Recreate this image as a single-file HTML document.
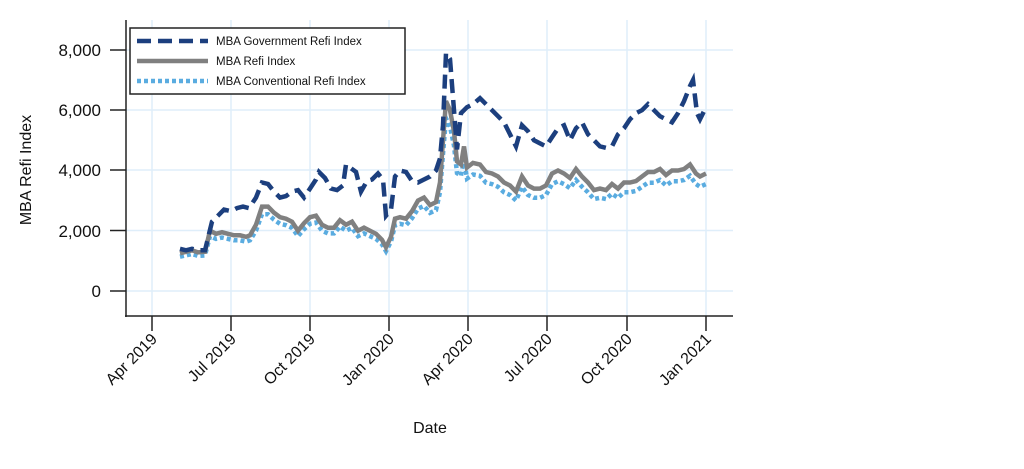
<!DOCTYPE html>
<html><head><meta charset="utf-8"><style>body{margin:0;background:#fff}svg{display:block}</style></head>
<body>
<svg id="s" width="1024" height="469" xmlns="http://www.w3.org/2000/svg" font-family="Liberation Sans, sans-serif">
<g stroke="#dfeefa" stroke-width="1.5">
<line x1="152" y1="20" x2="152" y2="316"/><line x1="231" y1="20" x2="231" y2="316"/><line x1="310" y1="20" x2="310" y2="316"/><line x1="389" y1="20" x2="389" y2="316"/><line x1="468" y1="20" x2="468" y2="316"/><line x1="547" y1="20" x2="547" y2="316"/><line x1="627" y1="20" x2="627" y2="316"/><line x1="706" y1="20" x2="706" y2="316"/>
<line x1="126" y1="291" x2="733" y2="291"/><line x1="126" y1="230.5" x2="733" y2="230.5"/><line x1="126" y1="170" x2="733" y2="170"/><line x1="126" y1="110" x2="733" y2="110"/><line x1="126" y1="50" x2="733" y2="50"/>
</g>
<g stroke="#222" stroke-width="1.5">
<line x1="126" y1="20" x2="126" y2="317"/><line x1="125" y1="316" x2="733" y2="316"/>
<line x1="110" y1="291" x2="126" y2="291"/><line x1="110" y1="230.5" x2="126" y2="230.5"/><line x1="110" y1="170" x2="126" y2="170"/><line x1="110" y1="110" x2="126" y2="110"/><line x1="110" y1="50" x2="126" y2="50"/>
<line x1="152" y1="316" x2="152" y2="331"/><line x1="231" y1="316" x2="231" y2="331"/><line x1="310" y1="316" x2="310" y2="331"/><line x1="389" y1="316" x2="389" y2="331"/><line x1="468" y1="316" x2="468" y2="331"/><line x1="547" y1="316" x2="547" y2="331"/><line x1="627" y1="316" x2="627" y2="331"/><line x1="706" y1="316" x2="706" y2="331"/>
</g>
<g font-size="17" fill="#111" text-anchor="end">
<text x="101" y="297">0</text><text x="101" y="237">2,000</text><text x="101" y="176">4,000</text><text x="101" y="116">6,000</text><text x="101" y="56">8,000</text>
</g>
<text transform="translate(31,170) rotate(-90)" font-size="16" text-anchor="middle" fill="#111">MBA Refi Index</text>
<text x="430" y="433" font-size="16" text-anchor="middle" fill="#111">Date</text>
<g font-size="16" fill="#111" text-anchor="end">
<text transform="translate(158,340) rotate(-45)">Apr 2019</text>
<text transform="translate(237,340) rotate(-45)">Jul 2019</text>
<text transform="translate(316,340) rotate(-45)">Oct 2019</text>
<text transform="translate(395,340) rotate(-45)">Jan 2020</text>
<text transform="translate(474,340) rotate(-45)">Apr 2020</text>
<text transform="translate(553,340) rotate(-45)">Jul 2020</text>
<text transform="translate(633,340) rotate(-45)">Oct 2020</text>
<text transform="translate(712,340) rotate(-45)">Jan 2021</text>
</g>
<path id="conv" fill="none" stroke="#5aace0" stroke-width="4.5" stroke-dasharray="4 3"/>
<path id="refi" fill="none" stroke="#808080" stroke-width="4.5"/>
<path id="gov" fill="none" stroke="#1c3f7e" stroke-width="4.5" stroke-dasharray="14 7"/>
<rect x="130" y="28" width="275" height="66" fill="#fff" stroke="#222" stroke-width="1.5"/>
<line x1="137" y1="41" x2="208" y2="41" stroke="#1c3f7e" stroke-width="4.5" stroke-dasharray="14 7"/>
<line x1="137" y1="61" x2="208" y2="61" stroke="#808080" stroke-width="4.5"/>
<line x1="137" y1="81" x2="208" y2="81" stroke="#5aace0" stroke-width="4.5" stroke-dasharray="4 3"/>
<g font-size="11.5" fill="#111"><text x="216" y="45">MBA Government Refi Index</text><text x="216" y="65">MBA Refi Index</text><text x="216" y="85">MBA Conventional Refi Index</text></g>
</svg>
<script>
function Y(v){return 291-v*0.03013;}
var gov=[180,1400,186,1350,192,1400,198,1350,205,1350,212,2300,218,2500,224,2700,231,2650,237,2750,243,2800,249,2750,256,3100,262,3600,268,3550,274,3300,280,3100,286,3150,292,3300,298,3350,304,3100,310,3400,316,3700,319,3950,325,3750,331,3400,337,3350,343,3500,346,4200,352,4050,356,3950,361,3300,367,3650,372,3700,378,3900,383,3700,386,2500,391,2700,395,3800,400,4000,406,3950,412,3650,418,3600,424,3700,430,3800,436,4000,440,4400,443,5500,446,7900,450,7700,454,6000,457,4700,461,5900,467,6100,473,6200,480,6400,486,6200,492,6000,498,5800,504,5600,510,5200,516,4800,522,5500,528,5300,534,5000,540,4900,546,4800,552,5100,558,5400,564,5500,570,5000,576,5400,582,5600,588,5200,594,5000,600,4800,606,4750,612,4800,618,5200,624,5400,630,5700,636,5900,642,6000,648,6200,654,6000,660,5800,666,5700,672,5600,678,5900,684,6300,690,6800,693,7000,697,5900,700,5700,706,6100];
var refi=[180,1250,186,1300,192,1350,198,1280,205,1300,210,2000,216,1900,222,1950,228,1900,234,1850,240,1850,246,1800,250,1850,256,2200,262,2800,268,2800,274,2600,280,2450,286,2400,292,2300,298,2000,304,2250,310,2450,316,2500,322,2200,328,2100,334,2100,340,2350,346,2200,352,2300,358,2000,364,2100,370,2000,376,1900,382,1700,386,1450,391,1800,395,2400,400,2450,406,2400,412,2650,418,3000,424,3100,430,2850,436,2950,440,3600,443,5000,446,6300,450,6000,454,5300,457,4300,461,4200,464,4800,467,4100,473,4250,480,4200,486,3950,492,3900,498,3800,504,3600,510,3500,516,3300,522,3800,528,3500,534,3400,540,3400,546,3500,552,3900,558,4000,564,3900,570,3750,576,4050,582,3800,588,3600,594,3350,600,3400,606,3350,612,3550,618,3400,624,3600,630,3600,636,3650,642,3800,648,3950,654,3950,660,4050,666,3850,672,4000,678,4000,684,4050,690,4200,696,3900,700,3800,706,3900];
function P(a,f){var d="";for(var i=0;i<a.length;i+=2){d+=(i?"L":"M")+a[i]+","+Y(f?f(a[i+1]):a[i+1]).toFixed(1);}return d;}
document.getElementById("gov").setAttribute("d",P(gov));
document.getElementById("refi").setAttribute("d",P(refi));
document.getElementById("conv").setAttribute("d",P(refi,function(v){return v*0.91;}));
</script>
</body></html>
